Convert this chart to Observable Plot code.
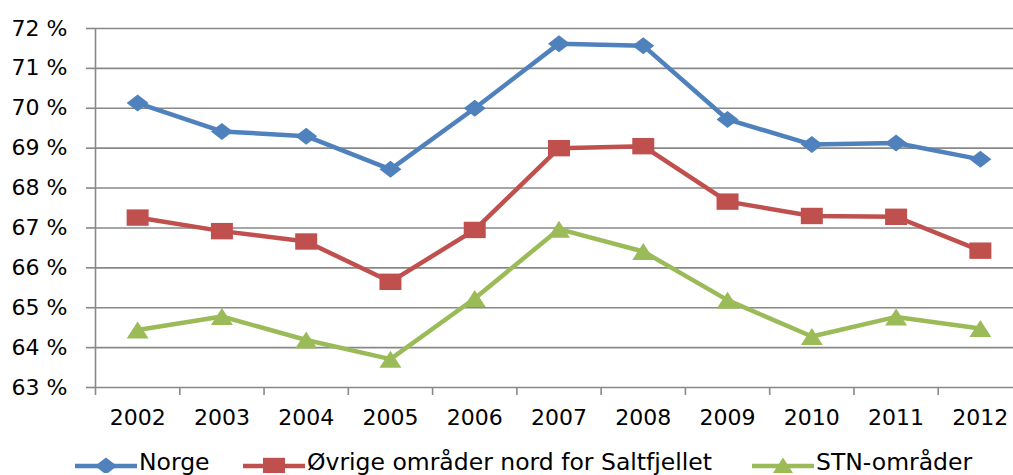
<!DOCTYPE html>
<html>
<head>
<meta charset="utf-8">
<script src="https://cdn.jsdelivr.net/npm/d3@7"></script>
<script src="https://cdn.jsdelivr.net/npm/@observablehq/plot@0.6"></script>
<style>
  html, body { margin: 0; padding: 0; background: #fff; overflow: hidden; }
  body { font-family: "DejaVu Sans", sans-serif; width: 1013px; height: 475px; }
  #legend { position: relative; width: 1013px; height: 35px; overflow: hidden; }
  .item { position: absolute; top: 0; height: 35px; }
  .item svg { position: absolute; top: 17px; left: 0; }
  .item span { position: absolute; left: 0; top: 10px; font-size: 23.5px; line-height: 24px; color: #000; white-space: nowrap; }
</style>
</head>
<body>
<div id="chart"></div>
<div id="legend"></div>
<script>
const years = [2002, 2003, 2004, 2005, 2006, 2007, 2008, 2009, 2010, 2011, 2012];
const norge  = [70.13, 69.42, 69.30, 68.47, 70.00, 71.62, 71.57, 69.72, 69.09, 69.13, 68.72];
const ovrige = [67.26, 66.92, 66.66, 65.65, 66.95, 69.00, 69.05, 67.66, 67.30, 67.28, 66.43];
const stn    = [64.44, 64.78, 64.19, 63.71, 65.23, 66.97, 66.41, 65.19, 64.28, 64.77, 64.48];
const yTicks = [63, 64, 65, 66, 67, 68, 69, 70, 71, 72];
const seriesNames = ["Norge", "Øvrige områder nord for Saltfjellet", "STN-områder"];
const colors = ["#4F81BD", "#C0504D", "#9BBB59"];

// Stretched marker shapes (wider than tall, as in the reference)
const diamond = { draw(ctx, size) { const r = Math.sqrt(size / Math.PI); const w = 1.1 * r, h = 0.85 * r;
  ctx.moveTo(0, -h); ctx.lineTo(w, 0); ctx.lineTo(0, h); ctx.lineTo(-w, 0); ctx.closePath(); } };
const square = { draw(ctx, size) { const r = Math.sqrt(size / Math.PI); const w = 1.1 * r, h = 0.82 * r;
  ctx.moveTo(-w, -h); ctx.lineTo(w, -h); ctx.lineTo(w, h); ctx.lineTo(-w, h); ctx.closePath(); } };
const triangle = { draw(ctx, size) { const r = Math.sqrt(size / Math.PI); const w = 1.1 * r, h = 0.85 * r;
  ctx.moveTo(0, -h); ctx.lineTo(w, h); ctx.lineTo(-w, h); ctx.closePath(); } };
const symbols = [diamond, square, triangle];

const seriesValues = [norge, ovrige, stn];
const seriesData = seriesValues.map((vals, s) => years.map((year, i) => ({ year, value: vals[i], series: seriesNames[s] })));

const boundaries = years.map(y => y - 0.5);
const gray = "#888888";

const marks = [
  Plot.gridY(yTicks, { stroke: gray, strokeOpacity: 1, strokeWidth: 1.6 }),
  Plot.ruleX([2001.5], { stroke: gray, strokeWidth: 1.6 }),
  Plot.axisY(yTicks, { tickSize: 9, tickFormat: () => "", stroke: gray, strokeWidth: 1.6, label: null }),
  Plot.axisY(yTicks, { tickSize: 0, tickPadding: 28, tickFormat: d => d + " %", fontSize: 22, fill: "#000", label: null }),
  Plot.axisX(boundaries, { tickSize: 8, tickFormat: () => "", stroke: gray, strokeWidth: 1.6, label: null }),
  Plot.axisX(years, { tickSize: 0, tickPadding: 22, tickFormat: d => String(d), fontSize: 22, fill: "#000", label: null })
];
seriesData.forEach((data, s) => {
  marks.push(Plot.line(data, { x: "year", y: "value", stroke: colors[s], strokeWidth: 4.5, strokeLinejoin: "round" }));
  marks.push(Plot.dot(data, { x: "year", y: "value", fill: colors[s], symbol: symbols[s], r: 10 }));
});

const chart = Plot.plot({
  width: 1013,
  height: 440,
  marginLeft: 95,
  marginRight: 0,
  marginTop: 28,
  marginBottom: 53,
  style: { fontFamily: "DejaVu Sans, sans-serif", background: "#fff", overflow: "hidden" },
  x: { type: "linear", domain: [2001.5, 2012.5], range: [95, 1022], label: null },
  y: { domain: [63, 72], label: null },
  marks
});
document.getElementById("chart").appendChild(chart);

// Legend below the chart
const legend = document.getElementById("legend");
const legendLeft = [75, 243, 752];
seriesNames.forEach((name, s) => {
  const item = document.createElement("div");
  item.className = "item";
  item.style.left = legendLeft[s] + "px";
  const sw = d3.create("svg").attr("width", 62).attr("height", 16);
  sw.append("line").attr("x1", 0).attr("x2", 62).attr("y1", 9).attr("y2", 9)
    .attr("stroke", colors[s]).attr("stroke-width", 4.5);
  sw.append("path").attr("transform", "translate(31,9)")
    .attr("d", d3.symbol(symbols[s], 10 * 10 * Math.PI)()).attr("fill", colors[s]);
  item.appendChild(sw.node());
  const label = document.createElement("span");
  label.textContent = name;
  label.style.left = "64px";
  item.appendChild(label);
  legend.appendChild(item);
});
</script>
</body>
</html>
